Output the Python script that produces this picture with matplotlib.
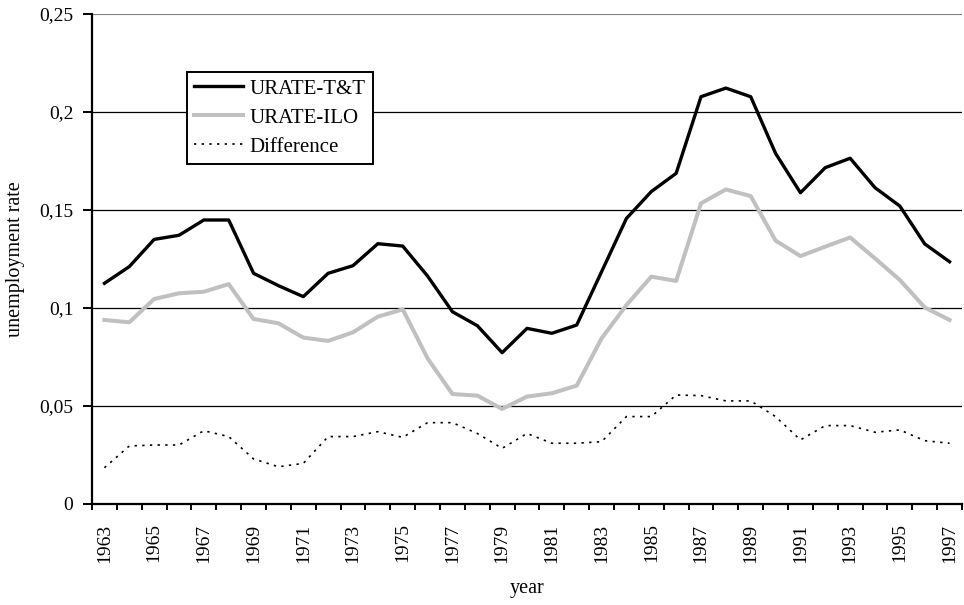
import numpy as np
import matplotlib
matplotlib.use('Agg')
from matplotlib import pyplot as plt
from matplotlib.ticker import FixedLocator, FixedFormatter

years = list(range(1963, 1998))

urate_tt = [0.1126, 0.1211, 0.1350, 0.1371, 0.1449, 0.1449, 0.1177, 0.1114, 0.1058,
            0.1177, 0.1216, 0.1328, 0.1316, 0.1163, 0.0981, 0.0910, 0.0772, 0.0896,
            0.0871, 0.0913, 0.1185, 0.1457, 0.1594, 0.1687, 0.2078, 0.2122, 0.2078,
            0.1789, 0.1588, 0.1716, 0.1764, 0.1614, 0.1520, 0.1327, 0.1236]

urate_ilo = [0.0939, 0.0927, 0.1046, 0.1075, 0.1083, 0.1122, 0.0944, 0.0922, 0.0849,
             0.0832, 0.0876, 0.0956, 0.0993, 0.0743, 0.0561, 0.0553, 0.0485, 0.0548,
             0.0565, 0.0604, 0.0845, 0.1015, 0.1160, 0.1138, 0.1534, 0.1605, 0.1571,
             0.1344, 0.1265, 0.1313, 0.1360, 0.1253, 0.1143, 0.1003, 0.0939]

difference = [0.0185, 0.0296, 0.0301, 0.0301, 0.0374, 0.0344, 0.0230, 0.0190, 0.0207,
              0.0344, 0.0344, 0.0369, 0.0340, 0.0415, 0.0415, 0.0360, 0.0284, 0.0360,
              0.0310, 0.0310, 0.0318, 0.0446, 0.0446, 0.0556, 0.0553, 0.0526, 0.0526,
              0.0446, 0.0327, 0.0400, 0.0400, 0.0366, 0.0378, 0.0323, 0.0310]

y_ticks = [0, 0.05, 0.1, 0.15, 0.2, 0.25]
y_tick_labels = ['0', '0,05', '0,1', '0,15', '0,2', '0,25']
labelled_years = years[::2]

plt.rcParams['font.family'] = ['Liberation Serif', 'DejaVu Serif']

fig = plt.figure(figsize=(9.64, 6.05), dpi=100)
ax = fig.add_axes([92 / 964, 1 - 504 / 605, 870 / 964, 490 / 605])

# gridlines (top one grey like the plot-area border)
for v in y_ticks[1:-1]:
    ax.axhline(v, color='black', lw=0.9, zorder=1)
ax.axhline(y_ticks[-1], color='#808080', lw=1.5, zorder=1)

ax.plot(years, urate_tt, color='black', lw=2.4, label='URATE-T&T', zorder=4)
ax.plot(years, urate_ilo, color='#c0c0c0', lw=2.9, label='URATE-ILO', zorder=3)
ax.plot(years, difference, color='black', lw=1.2, linestyle=(0, (1.4, 3.2)),
        label='Difference', zorder=3)

ax.set_xlim(years[0] - 0.5, years[-1] + 0.5)
ax.set_ylim(0, 0.25)

for side in ['top', 'right']:
    ax.spines[side].set_visible(False)
for side in ['left', 'bottom']:
    ax.spines[side].set_linewidth(1.6)
    ax.spines[side].set_zorder(5)

ax.yaxis.set_major_locator(FixedLocator(y_ticks))
ax.yaxis.set_major_formatter(FixedFormatter(y_tick_labels))
ax.tick_params(axis='y', direction='out', length=6.5, width=1.4, pad=7, labelsize=14)

# category boundaries as major ticks, labels on every other year
ax.xaxis.set_major_locator(FixedLocator(np.arange(years[0] - 0.5, years[-1] + 1, 1.0)))
ax.xaxis.set_major_formatter(FixedFormatter([]))
ax.xaxis.set_minor_locator(FixedLocator(labelled_years))
ax.xaxis.set_minor_formatter(FixedFormatter([str(y) for y in labelled_years]))
ax.tick_params(axis='x', which='major', direction='out', length=4.5, width=1.4)
ax.tick_params(axis='x', which='minor', length=0, pad=14, labelsize=14, labelrotation=90)

ax.set_ylabel('unemployment rate', fontsize=14.5, labelpad=10)
ax.set_xlabel('year', fontsize=14.5, labelpad=12)

leg = ax.legend(loc='upper left', bbox_to_anchor=(0.109, 0.882), borderaxespad=0,
                fontsize=15, frameon=True, fancybox=False, edgecolor='black',
                framealpha=1, handlelength=2.35, handletextpad=0.3,
                labelspacing=0.45, borderpad=0.35)
leg.get_frame().set_linewidth(1.4)
leg.set_zorder(6)

fig.savefig('out.png', dpi=100)
